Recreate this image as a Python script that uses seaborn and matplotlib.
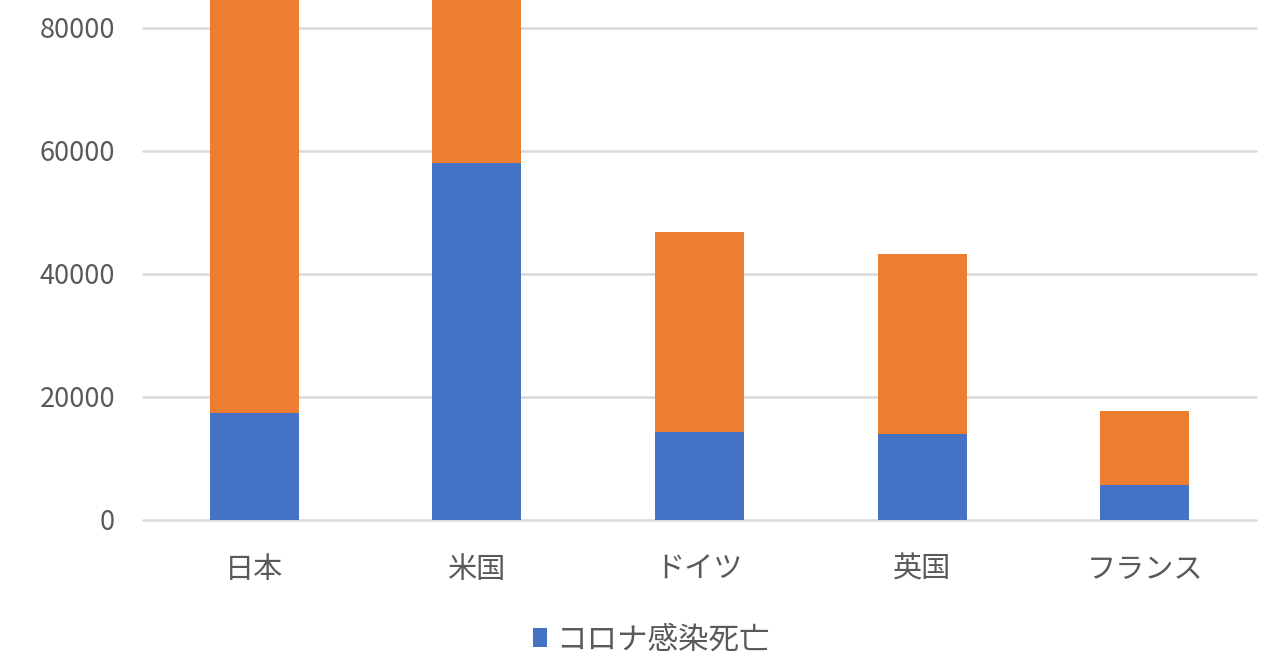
import matplotlib
matplotlib.use("Agg")
import matplotlib.pyplot as plt
import seaborn as sns
import pandas as pd
from matplotlib.patches import Patch

countries = ["日本", "米国", "ドイツ", "英国", "フランス"]
covid_deaths = [17400, 58000, 14300, 14000, 5700]
totals = [100000, 100000, 46800, 43300, 17700]
y_ticks = [0, 20000, 40000, 60000, 80000]
legend_label = "コロナ感染死亡"

BLUE = "#4472C4"
ORANGE = "#ED7D31"
GREY_TXT = "#595959"

sns.set_theme(style="white")
plt.rcParams['font.family'] = ['Noto Sans CJK JP', 'DejaVu Sans']

df = pd.DataFrame({"country": countries, "covid": covid_deaths, "total": totals})

fig = plt.figure(figsize=(12.8, 6.7), dpi=100)
ax = fig.add_axes([143/1280, 1 - 520/670, (1256-143)/1280, 520/670])

sns.barplot(data=df, x="country", y="total", color=ORANGE, width=0.4,
            saturation=1, ax=ax, zorder=3, linewidth=0, edgecolor="none")
sns.barplot(data=df, x="country", y="covid", color=BLUE, width=0.4,
            saturation=1, ax=ax, zorder=4, linewidth=0, edgecolor="none")

ax.set_xlim(-0.5, 4.5)
ax.set_ylim(0, 84550)
ax.set_yticks(y_ticks)
ax.set_yticklabels([str(v) for v in y_ticks])
ax.yaxis.grid(True, color="#d9d9d9", linewidth=1.8, zorder=0)
for gl in ax.get_ygridlines():
    gl.set_clip_on(False)
ax.set_axisbelow(True)
for s in ax.spines.values():
    s.set_visible(False)
ax.set_xlabel("")
ax.set_ylabel("")
ax.tick_params(axis="y", length=0, pad=20, labelsize=19.5, labelcolor=GREY_TXT)
ax.tick_params(axis="x", length=0, pad=25, labelsize=21, labelcolor=GREY_TXT)

handles = [Patch(facecolor=BLUE, edgecolor="none")]
fig.legend(handles, [legend_label], loc="center left",
           bbox_to_anchor=(533/1280, 1 - 640/670), frameon=False,
           fontsize=22, labelcolor=GREY_TXT, handlelength=0.45,
           handleheight=0.6, handletextpad=0.3, borderpad=0, borderaxespad=0)

fig.savefig("out.png", dpi=100, facecolor="white")
